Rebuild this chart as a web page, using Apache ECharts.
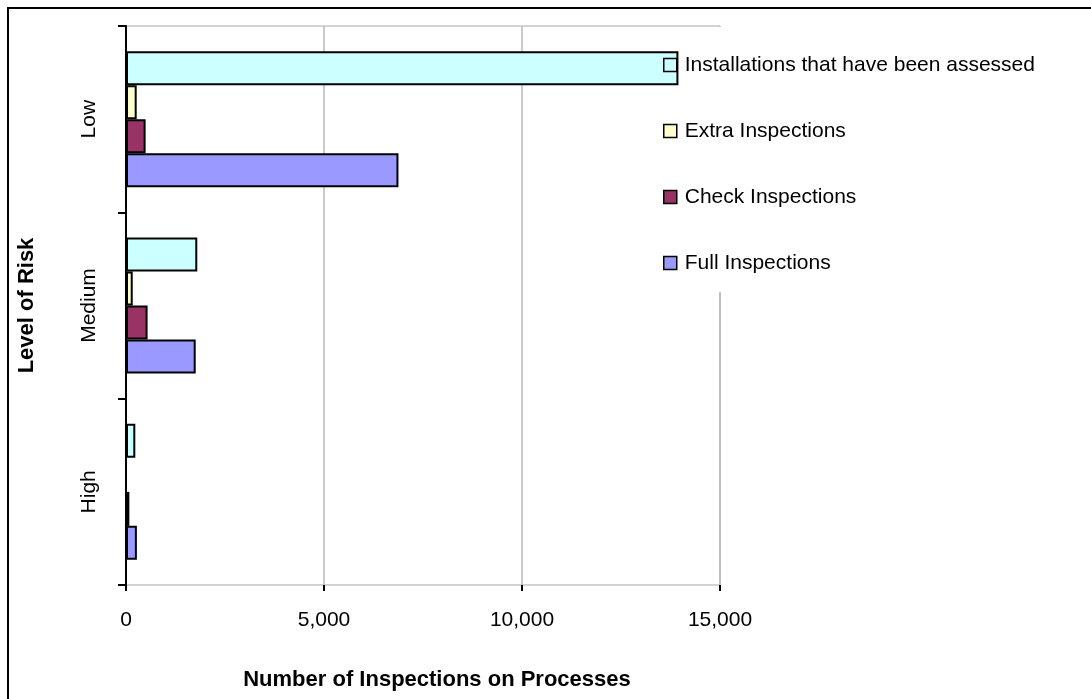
<!DOCTYPE html>
<html>
<head>
<meta charset="utf-8">
<script src="https://cdn.jsdelivr.net/npm/echarts@6/dist/echarts.min.js"></script>
<style>
  html, body { margin: 0; padding: 0; background: #fff; }
  #chart { width: 1091px; height: 699px; }
</style>
</head>
<body>
<div id="chart"></div>
<script>
// risk levels, bottom to top on the axis
var categories = ['High', 'Medium', 'Low'];

var assessed = [235, 1800, 13950];
var extraInsp = [0, 170, 270];
var checkInsp = [85, 545, 495];
var fullInsp = [275, 1760, 6880];

var xTicks = [0, 5000, 10000, 15000];

var chart = echarts.init(document.getElementById('chart'));
var font = 'Liberation Sans, Arial, sans-serif';

function barSeries(name, data, color) {
    return {
        name: name,
        type: 'bar',
        barWidth: 34,
        barGap: 0,
        z: 2,
        itemStyle: { color: color, borderColor: '#000', borderWidth: 2 },
        data: data
    };
}

var option = {
    backgroundColor: '#fff',
    textStyle: { fontFamily: font, color: '#000' },
    animation: false,
    grid: {
        left: 126, right: 371, top: 26, bottom: 114,
        show: true, borderColor: '#a8a8a8', borderWidth: 1
    },
    legend: {
        orient: 'vertical',
        left: 658, top: 49,
        z: 5,
        icon: 'rect',
        itemWidth: 13, itemHeight: 13,
        itemGap: 44,
        textStyle: { fontSize: 21, lineHeight: 22, color: '#000', fontFamily: font, padding: [0, 0, 0, 3] },
        itemStyle: { borderColor: '#000', borderWidth: 1.5 },
        data: ['Installations that have been assessed', 'Extra Inspections', 'Check Inspections', 'Full Inspections']
    },
    xAxis: {
        type: 'value',
        min: xTicks[0],
        max: xTicks[xTicks.length - 1],
        interval: 5000,
        name: 'Number of Inspections on Processes',
        nameLocation: 'middle',
        nameGap: 84,
        nameTextStyle: { fontSize: 22, fontWeight: 'bold', color: '#000', padding: [0, 0, 0, 28] },
        axisLine: { lineStyle: { color: '#000', width: 2 } },
        axisTick: { show: true, length: 6, inside: false, lineStyle: { color: '#000', width: 2 } },
        axisLabel: {
            fontSize: 21, color: '#000', margin: 25,
            formatter: function (v) { return v.toLocaleString('en-US'); }
        },
        splitLine: { show: true, lineStyle: { color: '#b8b8b8', width: 1.5 } }
    },
    yAxis: {
        type: 'category',
        data: categories,
        name: 'Level of Risk',
        nameLocation: 'middle',
        nameGap: 88,
        nameRotate: 90,
        nameTextStyle: { fontSize: 22, fontWeight: 'bold', color: '#000' },
        axisLine: { lineStyle: { color: '#000', width: 2 } },
        axisTick: { show: true, length: 8, lineStyle: { color: '#000', width: 2 } },
        axisLabel: { fontSize: 21, color: '#000', rotate: 90, margin: 26 }
    },
    graphic: [
        {
            // white legend area hides the right grid line behind it
            type: 'rect', z: 1,
            shape: { x: 712, y: 27, width: 16, height: 265 },
            style: { fill: '#fff' }
        },
        {
            type: 'rect', z: 10,
            shape: { x: 8, y: 8, width: 1200, height: 800 },
            style: { fill: 'none', stroke: '#000', lineWidth: 2 }
        }
    ],
    // first series is drawn at the top of each band
    series: [
        barSeries('Installations that have been assessed', assessed, '#CCFFFF'),
        barSeries('Extra Inspections', extraInsp, '#FFFFCC'),
        barSeries('Check Inspections', checkInsp, '#993366'),
        barSeries('Full Inspections', fullInsp, '#9999FF')
    ]
};

chart.setOption(option);
window.addEventListener('resize', function () { chart.resize(); });
</script>
</body>
</html>
